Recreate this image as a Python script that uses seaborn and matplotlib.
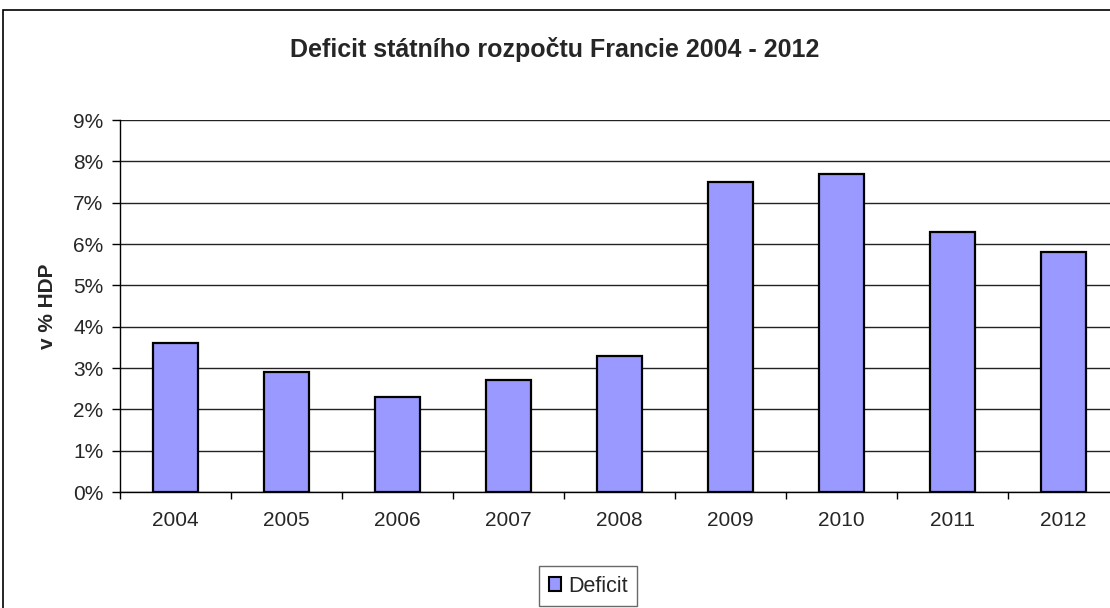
import matplotlib
matplotlib.use("Agg")
import matplotlib.pyplot as plt
import seaborn as sns
import pandas as pd
from matplotlib.patches import Rectangle, Patch
from matplotlib.ticker import FuncFormatter, FixedLocator

years = ["2004", "2005", "2006", "2007", "2008", "2009", "2010", "2011", "2012"]
deficit = [3.6, 2.9, 2.3, 2.7, 3.3, 7.5, 7.7, 6.3, 5.8]
y_ticks = [0, 1, 2, 3, 4, 5, 6, 7, 8, 9]

sns.set_style("white")
plt.rcParams['font.family'] = ['Liberation Sans', 'DejaVu Sans']

df = pd.DataFrame({"year": years, "deficit": deficit})

fig = plt.figure(figsize=(11.1, 6.08), dpi=100)
W, H = 1110, 608
ax = fig.add_axes([120 / W, (H - 492) / H, (1119 - 120) / W, (492 - 120) / H])

sns.barplot(data=df, x="year", y="deficit", ax=ax, color="#9999FF",
            saturation=1, width=0.41, edgecolor="black", linewidth=1.6, zorder=3)

ax.set_xlim(-0.5, len(years) - 0.5)
ax.set_ylim(0, 9)
ax.set_yticks(y_ticks)
ax.yaxis.set_major_formatter(FuncFormatter(lambda v, p: f"{int(v)}%"))
ax.yaxis.grid(True, color="#222222", linewidth=1.0, zorder=0)
ax.set_axisbelow(True)

ax.tick_params(axis="x", which="major", length=0, pad=14, labelsize=15)
ax.xaxis.set_minor_locator(FixedLocator([i - 0.5 for i in range(len(years) + 1)]))
ax.tick_params(axis="x", which="minor", length=5, width=1, color="black", direction="out", bottom=True)
ax.tick_params(axis="y", length=6, width=1, color="black", direction="out", left=True, labelsize=15, pad=6)

for s in ["top", "right"]:
    ax.spines[s].set_visible(False)
for s in ["left", "bottom"]:
    ax.spines[s].set_color("black")
    ax.spines[s].set_linewidth(1.0)

ax.set_xlabel("")
ax.set_ylabel("v % HDP", fontsize=15, fontweight="bold")
ax.yaxis.set_label_coords(-63 / 999, 0.5)

fig.text(555 / W, 1 - 49 / H, "Deficit státního rozpočtu Francie 2004 - 2012",
         ha="center", va="center", fontsize=18, fontweight="bold")

fig.patches.append(Rectangle((3 / W, -0.1), 1.2, 1 - 10 / H + 0.1, transform=fig.transFigure,
                             fill=False, edgecolor="black", linewidth=1.2))

handles = [Patch(facecolor="#9999FF", edgecolor="black", linewidth=1.5, label="Deficit")]
leg = fig.legend(handles=handles, loc="center", bbox_to_anchor=(588 / W, 1 - 586 / H),
                 frameon=True, fancybox=False, edgecolor="#444444", fontsize=15.5,
                 handlelength=0.6, handleheight=0.6, handletextpad=0.3, borderpad=0.45)
leg.get_frame().set_linewidth(1.0)

fig.savefig("out.png", dpi=100)
